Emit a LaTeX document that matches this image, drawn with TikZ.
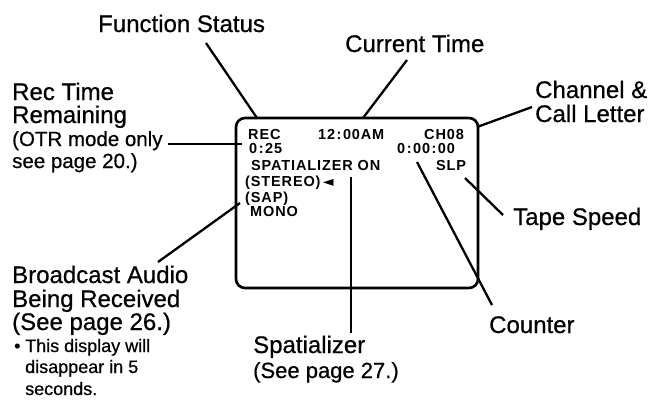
\documentclass[tikz,border=0pt]{standalone}
\usepackage{fontspec}
\setmainfont[FakeBold=0.6]{Liberation Sans}
\newfontfamily\lcdfont[LetterSpace=6]{Liberation Sans}
\newfontfamily\symfont{DejaVu Sans}
\newcommand\cln{\kern1.5pt:\kern1.5pt}
\begin{document}
\begin{tikzpicture}[x=1pt,y=-1pt,
  lbl/.style={anchor=base west,inner sep=0pt,font=\fontsize{24}{24}\selectfont},
  sublbl/.style={anchor=base west,inner sep=0pt,font=\fontsize{22}{22}\selectfont},
  otrlbl/.style={anchor=base west,inner sep=0pt,font=\fontsize{20.5}{20.5}\selectfont},
  notelbl/.style={anchor=base west,inner sep=0pt,font=\fontsize{18}{18}\selectfont},
  scr/.style={anchor=base west,inner sep=0pt,font=\lcdfont\bfseries\fontsize{14.5}{14.5}\selectfont},
  lead/.style={line width=2.3pt},
  screen/.style={line width=2.6pt,rounded corners=9pt}]
\useasboundingbox (0,0) rectangle (648,408);

% screen frame
\draw[screen] (236,118) rectangle (478,288);

% screen texts
\node[scr] (rec) at (248,139) {REC};
\node[scr] (clock) at (318,139) {12\cln00AM};
\node[scr] (ch) at (424,139) {CH08};
\node[scr] (otr) at (249,153.5) {0\cln25};
\node[scr] (cnt) at (397,153.5) {0\cln00\cln00};
\node[scr] (spa) at (251,170) {SPATIALIZER ON};
\node[scr] (slp) at (436,170) {SLP};
\node[scr] (stereo) at (245,186.5) {(STEREO)\,{\symfont\fontsize{14}{14}\selectfont ◄}};
\node[scr] (sap) at (245,202) {(SAP)};
\node[scr] (mono) at (250,216) {MONO};

% labels
\node[lbl] (fs) at (98,32) {Function Status};
\node[lbl] (ct) at (345,52) {Current Time};
\node[lbl] (rt1) at (12,100) {Rec Time};
\node[lbl] (rt2) at (12,123) {Remaining};
\node[otrlbl] (rt3) at (12,146) {(OTR mode only};
\node[otrlbl] (rt4) at (12,168) {see page 20.)};
\node[lbl] (cc1) at (535,98) {Channel \&};
\node[lbl] (cc2) at (535,122) {Call Letter};
\node[lbl] (ts) at (513,225) {Tape Speed};
\node[lbl] (co) at (489,333) {Counter};
\node[lbl] (sp1) at (253,353) {Spatializer};
\node[sublbl] (sp2) at (253,378) {(See page 27.)};
\node[lbl] (ba1) at (12,283) {Broadcast Audio};
\node[lbl] (ba2) at (12,307) {Being Received};
\node[lbl] (ba3) at (12,330) {(See page 26.)};
\node[notelbl] (bul) at (14,352) {•};
\node[notelbl] (nt1) at (25,352) {This display will};
\node[notelbl] (nt2) at (25,373) {disappear in 5};
\node[notelbl] (nt3) at (25,395) {seconds.};

% leader end points
\coordinate (fsA) at (206,43);   \coordinate (fsB) at (257,118);
\coordinate (ctA) at (407,60);   \coordinate (ctB) at (363,118);
\coordinate (ccA) at (532,107);  \coordinate (ccB) at (477,127);
\coordinate (rtA) at (168,144);  \coordinate (rtB) at (242,144);
\coordinate (baA) at (158,262);  \coordinate (baB) at (240,203);
\coordinate (spA) at (351,177);  \coordinate (spB) at (351,333);
\coordinate (coA) at (417,162);  \coordinate (coB) at (492,305);
\coordinate (tsA) at (465,178);  \coordinate (tsB) at (503,215);

\draw[lead] (fsA) -- (fsB);
\draw[lead] (ctA) -- (ctB);
\draw[lead] (ccA) -- (ccB);
\draw[lead] (rtA) -- (rtB);
\draw[lead] (baA) -- (baB);
\draw[lead] (spA) -- (spB);
\draw[lead] (coA) -- (coB);
\draw[lead] (tsA) -- (tsB);
\end{tikzpicture}
\end{document}
